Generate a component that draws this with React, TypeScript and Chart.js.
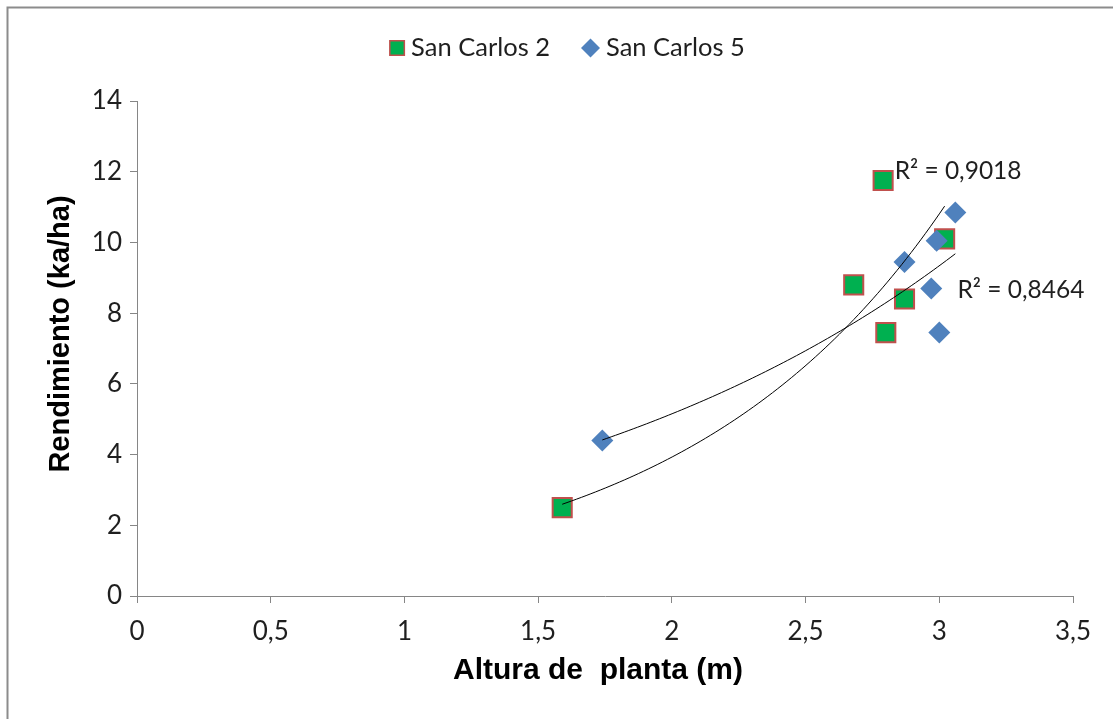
import React, { useEffect, useRef } from 'react';
import { Chart, registerables } from 'chart.js';

Chart.register(...registerables);

// ---- data ----
const seriesNames = ['San Carlos 2', 'San Carlos 5'];
const sc2X = [1.59, 2.68, 2.79, 2.8, 2.87, 3.02];
const sc2Y = [2.5, 8.8, 11.75, 7.45, 8.4, 10.1];
const sc5X = [1.74, 2.87, 2.99, 3.06, 2.97, 3.0];
const sc5Y = [4.4, 9.45, 10.05, 10.85, 8.7, 7.45];
const r2Texts = ['R² = 0,9018', 'R² = 0,8464'];
const xTitle = 'Altura de  planta (m)';
const yTitle = 'Rendimiento (ka/ha)';

// annotation anchor positions (data coordinates)
const r2AnchorX = [2.833, 3.068];
const r2AnchorY = [12.02, 8.66];

const LEGEND_CX = 567;
const LEGEND_CY = 48;

function expFit(xs: number[], ys: number[]) {
  const n = xs.length;
  const ly = ys.map((v) => Math.log(v));
  const mx = xs.reduce((a, b) => a + b, 0) / n;
  const my = ly.reduce((a, b) => a + b, 0) / n;
  let sxy = 0;
  let sxx = 0;
  for (let i = 0; i < n; i++) {
    sxy += (xs[i] - mx) * (ly[i] - my);
    sxx += (xs[i] - mx) * (xs[i] - mx);
  }
  const b = sxy / sxx;
  const a = Math.exp(my - b * mx);
  return { a, b };
}

function trendPoints(xs: number[], ys: number[]) {
  const { a, b } = expFit(xs, ys);
  const lo = Math.min(...xs);
  const hi = Math.max(...xs);
  const pts: { x: number; y: number }[] = [];
  const steps = 80;
  for (let i = 0; i <= steps; i++) {
    const x = lo + ((hi - lo) * i) / steps;
    pts.push({ x, y: a * Math.exp(b * x) });
  }
  return pts;
}

const toPoints = (xs: number[], ys: number[]) => xs.map((x, i) => ({ x, y: ys[i] }));

const GREEN = '#00b050';
const RED = '#c0504d';
const BLUE = '#4f81bd';
const AXIS = '#868686';
const TEXT = '#1f1f1f';

const framePlugin = {
  id: 'frame',
  beforeDraw(chart: any) {
    const ctx = chart.ctx;
    ctx.save();
    ctx.fillStyle = '#ffffff';
    ctx.fillRect(0, 0, chart.width, chart.height);
    ctx.strokeStyle = '#8c8c8c';
    ctx.lineWidth = 2;
    ctx.beginPath();
    ctx.moveTo(7.5, chart.height + 5);
    ctx.lineTo(7.5, 7.5);
    ctx.lineTo(chart.width + 5, 7.5);
    ctx.stroke();
    ctx.restore();
  },
};

const annotationPlugin = {
  id: 'r2labels',
  afterDraw(chart: any) {
    const ctx = chart.ctx;
    const xs = chart.scales.x;
    const ys = chart.scales.y;
    ctx.save();
    ctx.font = '24.5px Lato';
    ctx.fillStyle = TEXT;
    ctx.textAlign = 'left';
    ctx.textBaseline = 'middle';
    r2Texts.forEach((t, i) => {
      ctx.fillText(t, xs.getPixelForValue(r2AnchorX[i]), ys.getPixelForValue(r2AnchorY[i]));
    });
    // axis titles
    ctx.fillStyle = '#000000';
    ctx.textAlign = 'center';
    ctx.font = 'bold 30px "Liberation Sans"';
    ctx.fillText(xTitle, 598, 671);
    ctx.translate(61, 334);
    ctx.rotate(-Math.PI / 2);
    ctx.font = 'bold 29px "Liberation Sans"';
    ctx.fillText(yTitle, 0, 0);
    ctx.restore();
  },
};

const legendPlugin = {
  id: 'customLegend',
  afterDraw(chart: any) {
    const ctx = chart.ctx;
    ctx.save();
    ctx.font = '25.5px Lato';
    ctx.textBaseline = 'middle';
    ctx.textAlign = 'left';
    const markerW = [16, 19];
    const gapMT = 6;
    const gapItems = 31;
    const tw = seriesNames.map((s) => ctx.measureText(s).width);
    const total = markerW[0] + gapMT + tw[0] + gapItems + markerW[1] + gapMT + tw[1];
    let x = LEGEND_CX - total / 2;
    const cy = LEGEND_CY;
    // square marker
    ctx.fillStyle = GREEN;
    ctx.strokeStyle = RED;
    ctx.lineWidth = 1.5;
    ctx.fillRect(x + 0.75, cy - 7.25, 14.5, 14.5);
    ctx.strokeRect(x + 0.75, cy - 7.25, 14.5, 14.5);
    x += markerW[0] + gapMT;
    ctx.fillStyle = TEXT;
    ctx.fillText(seriesNames[0], x, cy);
    x += tw[0] + gapItems;
    // diamond marker
    const r = markerW[1] / 2;
    ctx.fillStyle = BLUE;
    ctx.beginPath();
    ctx.moveTo(x, cy);
    ctx.lineTo(x + r, cy - r);
    ctx.lineTo(x + 2 * r, cy);
    ctx.lineTo(x + r, cy + r);
    ctx.closePath();
    ctx.fill();
    x += markerW[1] + gapMT;
    ctx.fillStyle = TEXT;
    ctx.fillText(seriesNames[1], x, cy);
    ctx.restore();
  },
};

export default function App() {
  const ref = useRef<HTMLCanvasElement | null>(null);

  useEffect(() => {
    document.body.style.margin = '0';
    if (!ref.current) return;
    const chart = new Chart(ref.current, {
      type: 'scatter',
      data: {
        datasets: [
          {
            type: 'line',
            label: 'trend2',
            data: trendPoints(sc2X, sc2Y),
            borderColor: '#000000',
            borderWidth: 1,
            pointRadius: 0,
            fill: false,
            tension: 0,
            order: 0,
          } as any,
          {
            type: 'line',
            label: 'trend5',
            data: trendPoints(sc5X, sc5Y),
            borderColor: '#000000',
            borderWidth: 1,
            pointRadius: 0,
            fill: false,
            tension: 0,
            order: 0,
          } as any,
          {
            label: seriesNames[1],
            data: toPoints(sc5X, sc5Y),
            pointStyle: 'rectRot',
            pointRadius: 11,
            pointHoverRadius: 11,
            backgroundColor: BLUE,
            borderColor: BLUE,
            borderWidth: 0,
            order: 1,
          },
          {
            label: seriesNames[0],
            data: toPoints(sc2X, sc2Y),
            pointStyle: 'rect',
            pointRadius: 13.5,
            pointHoverRadius: 13.5,
            backgroundColor: GREEN,
            borderColor: RED,
            borderWidth: 2,
            order: 2,
          },
        ],
      },
      options: {
        responsive: false,
        animation: false,
        events: [],
        layout: { padding: { top: 101, right: 40, left: 0, bottom: 0 } },
        plugins: {
          legend: { display: false },
          tooltip: { enabled: false },
        },
        scales: {
          x: {
            type: 'linear',
            min: 0,
            max: 3.5,
            ticks: {
              stepSize: 0.5,
              padding: 13,
              color: TEXT,
              font: { family: 'Lato', size: 26 },
              callback: (v: any) => String(v).replace('.', ','),
            },
            grid: { drawOnChartArea: false, drawTicks: true, tickLength: 7, color: AXIS },
            border: { display: true, color: AXIS, width: 1 },
            title: { display: false },
            afterFit: (s: any) => {
              s.height = 123;
            },
          },
          y: {
            type: 'linear',
            min: 0,
            max: 14,
            ticks: {
              stepSize: 2,
              padding: 8,
              color: TEXT,
              font: { family: 'Lato', size: 26 },
            },
            grid: { drawOnChartArea: false, drawTicks: true, tickLength: 7, color: AXIS },
            border: { display: true, color: AXIS, width: 1 },
            title: { display: false },
            afterFit: (s: any) => {
              s.width = 137;
            },
          },
        },
      } as any,
      plugins: [framePlugin, annotationPlugin, legendPlugin],
    });
    return () => chart.destroy();
  }, []);

  return <canvas ref={ref} width={1113} height={719} style={{ display: 'block' }} />;
}
